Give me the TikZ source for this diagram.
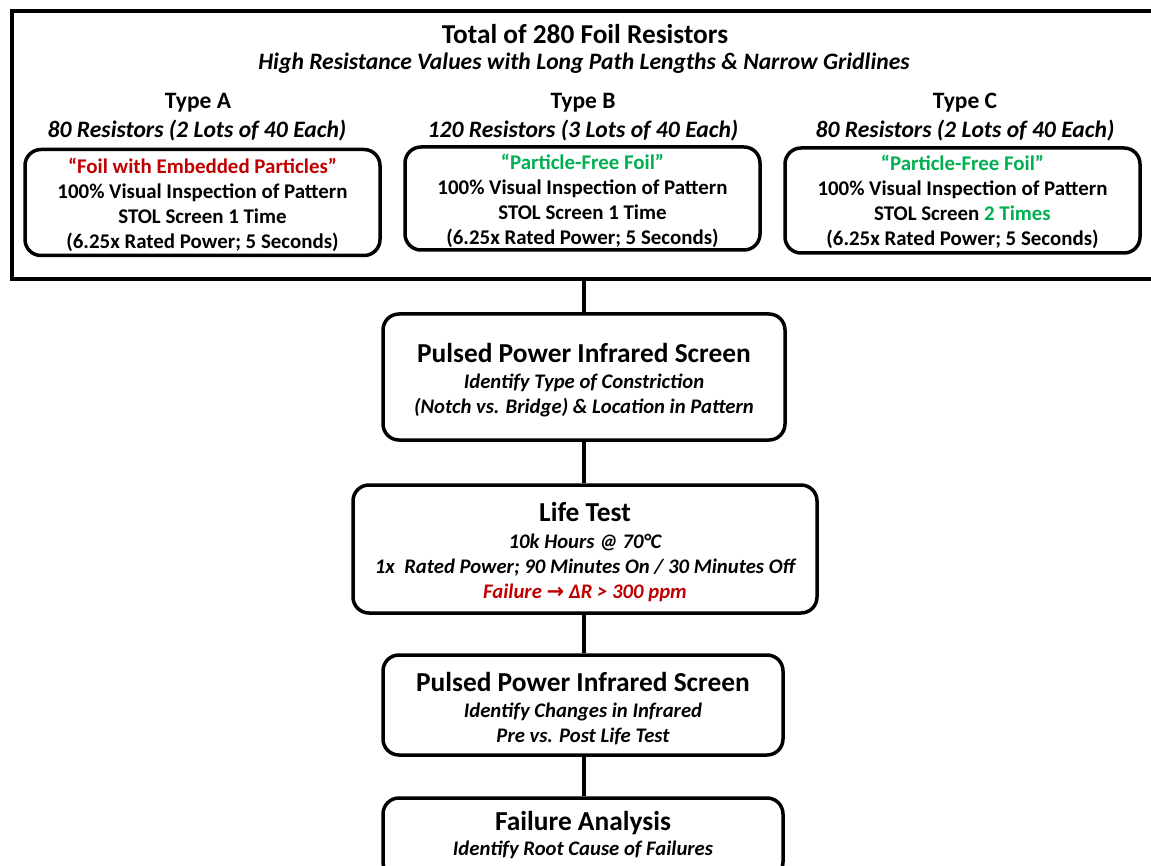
\documentclass[tikz,border=0pt]{standalone}
\usepackage{fontspec}
\setmainfont{Carlito}
\newfontfamily\symfont{DejaVu Sans}
\definecolor{redtxt}{RGB}{192,0,0}
\definecolor{greentxt}{RGB}{0,176,80}
\newcommand{\sublinefont}{\itshape\fontsize{20.7}{25}\selectfont}
\newcommand{\headfont}{\fontsize{27.4}{28}\selectfont}
\begin{document}
\begin{tikzpicture}[x=1pt,y=-1pt]
\tikzset{
  box/.style={draw, line width=3.5pt, rounded corners=16pt, inner sep=0pt},
  boxtext/.style={inner sep=0pt, align=center, font=\bfseries\fontsize{20.9}{25}\selectfont},
  lbl/.style={inner sep=0pt, align=center},
  conn/.style={line width=4pt},
}
\useasboundingbox (0,0) rectangle (1151,866);
\clip (0,0) rectangle (1151,866);
% outer frame
\node[draw, line width=4pt, minimum width=1150pt, minimum height=268pt, anchor=north west, inner sep=0pt] (outer) at (10,9) {};
\node[lbl, font=\bfseries\fontsize{27.3}{30}\selectfont] (title) at (585,34) {Total of 280 Foil Resistors};
\node[lbl, font=\bfseries\itshape\fontsize{23.6}{26}\selectfont] (sub) at (584,63) {High Resistance Values with Long Path Lengths \& Narrow Gridlines};
% types
\node[lbl, font=\bfseries\fontsize{23.5}{26}\selectfont] (ta) at (198,103) {Type A};
\node[lbl, font=\bfseries\itshape\fontsize{23.6}{26}\selectfont] (na) at (197,131) {80 Resistors (2 Lots of 40 Each)};
\node[lbl, font=\bfseries\fontsize{23.5}{26}\selectfont] (tb) at (583,103) {Type B};
\node[lbl, font=\bfseries\itshape\fontsize{23.6}{26}\selectfont] (nb) at (583,131) {120 Resistors (3 Lots of 40 Each)};
\node[lbl, font=\bfseries\fontsize{23.5}{26}\selectfont] (tc) at (965,103) {Type C};
\node[lbl, font=\bfseries\itshape\fontsize{23.6}{26}\selectfont] (nc) at (965,131) {80 Resistors (2 Lots of 40 Each)};
\node[box, minimum width=355pt, minimum height=106pt] (ba) at (202.5,202.5) {};
\node[boxtext] (bat) at ([yshift=-2pt]ba.center)
  {\textcolor{redtxt}{``Foil with Embedded Particles''}\\100\% Visual Inspection of Pattern\\STOL Screen 1 Time\\(6.25x Rated Power; 5 Seconds)};
\node[box, minimum width=355pt, minimum height=103pt] (bb) at (582.5,198.5) {};
\node[boxtext] (bbt) at ([yshift=-2.5pt]bb.center)
  {\textcolor{greentxt}{``Particle-Free Foil''}\\100\% Visual Inspection of Pattern\\STOL Screen 1 Time\\(6.25x Rated Power; 5 Seconds)};
\node[box, minimum width=355pt, minimum height=105pt] (bc) at (962.5,200.5) {};
\node[boxtext] (bct) at ([yshift=-1pt]bc.center)
  {\textcolor{greentxt}{``Particle-Free Foil''}\\100\% Visual Inspection of Pattern\\STOL Screen \textcolor{greentxt}{2 Times}\\(6.25x Rated Power; 5 Seconds)};
% flow
\node[box, minimum width=402pt, minimum height=126pt] (pp1) at (584,377) {};
\node[boxtext] (pp1t) at ([yshift=-3.5pt]pp1.center)
  {{\headfont Pulsed Power Infrared Screen}\\[1pt]
   {\sublinefont Identify Type of Constriction}\\
   {\sublinefont (Notch vs. Bridge) \& Location in Pattern}};
\node[box, minimum width=464pt, minimum height=128pt] (lt) at (585,549) {};
\node[boxtext] (ltt) at ([yshift=-3pt]lt.center)
  {{\headfont Life Test}\\[2pt]
   {\sublinefont 10k Hours @ 70°C}\\
   {\sublinefont 1x\ \ Rated Power; 90 Minutes On / 30 Minutes Off}\\
   {\sublinefont\color{redtxt} Failure {\symfont\bfseries\upshape\fontsize{21}{25}\selectfont →} ΔR > 300 ppm}};
\node[box, minimum width=400pt, minimum height=100pt] (pp2) at (583,705) {};
\node[boxtext] (pp2t) at ([yshift=-3.5pt]pp2.center)
  {{\headfont Pulsed Power Infrared Screen}\\[1pt]
   {\sublinefont Identify Changes in Infrared}\\
   {\sublinefont Pre vs. Post Life Test}};
\node[box, minimum width=400pt, minimum height=80pt] (fa) at (583,838) {};
\node[boxtext] (fat) at ([yshift=2.5pt]fa.center)
  {{\headfont Failure Analysis}\\[0pt]
   {\sublinefont Identify Root Cause of Failures}};
\draw[conn] (pp1.north |- outer.south) -- (pp1.north);
\draw[conn] (pp1.south) -- (pp1.south |- lt.north);
\draw[conn] (pp1.south |- lt.south) -- (pp1.south |- pp2.north);
\draw[conn] (pp1.south |- pp2.south) -- (pp1.south |- fa.north);
\end{tikzpicture}
\end{document}
